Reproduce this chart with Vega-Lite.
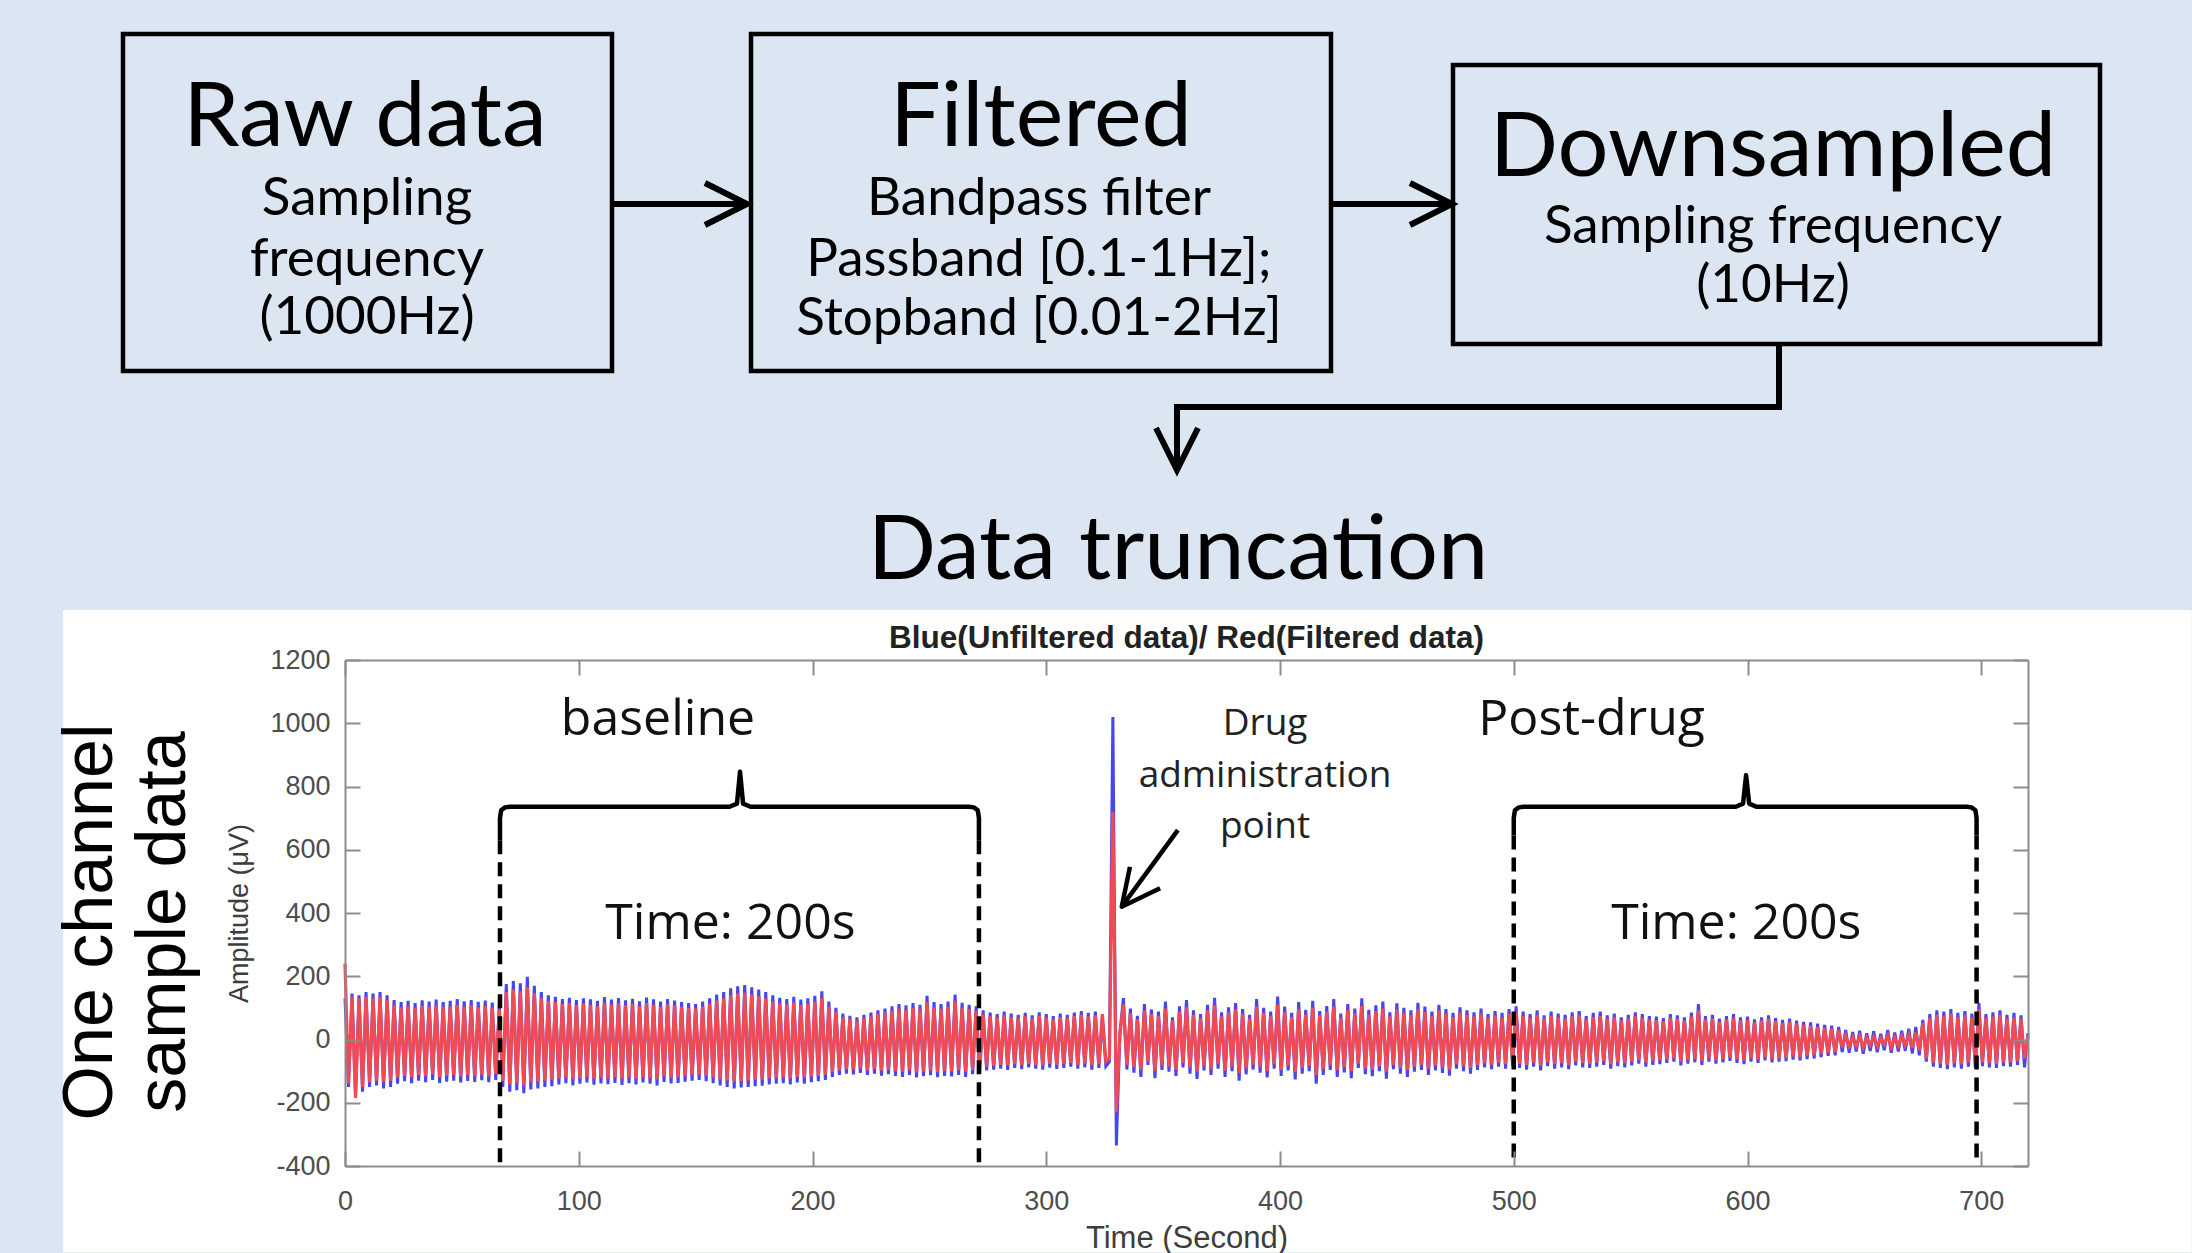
{
  "$schema": "https://vega.github.io/schema/vega-lite/v6.json",
  "background": "#dce6f2",
  "padding": 0,
  "bounds": "flush",
  "spacing": 50,
  "config": {"view": {"stroke": null}},
  "vconcat": [
    {
      "width": 1683,
      "height": 610,
      "encoding": {
        "x": {"field": "x", "type": "quantitative", "scale": {"domain": [345, 2028], "nice": false, "zero": false}, "axis": null},
        "y": {"field": "y", "type": "quantitative", "scale": {"domain": [0, 610], "reverse": true, "nice": false, "zero": false}, "axis": null}
      },
      "layer": [
        {
          "data": {"values": [{"x": 0, "x2": 2192, "y": 0, "y2": 610}]},
          "mark": {"type": "rect", "fill": "#dce6f2", "stroke": null},
          "encoding": {"x2": {"field": "x2"}, "y2": {"field": "y2"}}
        },
        {
          "data": {"values": [
            {"box": "Raw data", "x": 123, "x2": 612, "y": 34, "y2": 371},
            {"box": "Filtered", "x": 751, "x2": 1331, "y": 34, "y2": 371},
            {"box": "Downsampled", "x": 1453, "x2": 2100, "y": 65, "y2": 344}
          ]},
          "mark": {"type": "rect", "fill": "transparent", "stroke": "#000000", "strokeWidth": 4.5},
          "encoding": {"x2": {"field": "x2"}, "y2": {"field": "y2"}}
        },
        {
          "data": {"values": [
            {"g": "a1", "o": 1, "x": 612, "y": 204}, {"g": "a1", "o": 2, "x": 744, "y": 204},
            {"g": "h1", "o": 1, "x": 705, "y": 183}, {"g": "h1", "o": 2, "x": 747, "y": 204}, {"g": "h1", "o": 3, "x": 705, "y": 225},
            {"g": "a2", "o": 1, "x": 1331, "y": 204}, {"g": "a2", "o": 2, "x": 1448, "y": 204},
            {"g": "h2", "o": 1, "x": 1410, "y": 183}, {"g": "h2", "o": 2, "x": 1452, "y": 204}, {"g": "h2", "o": 3, "x": 1410, "y": 225},
            {"g": "a3", "o": 1, "x": 1779, "y": 344}, {"g": "a3", "o": 2, "x": 1779, "y": 407}, {"g": "a3", "o": 3, "x": 1177, "y": 407}, {"g": "a3", "o": 4, "x": 1177, "y": 466},
            {"g": "h3", "o": 1, "x": 1156, "y": 428}, {"g": "h3", "o": 2, "x": 1177, "y": 470}, {"g": "h3", "o": 3, "x": 1198, "y": 428}
          ]},
          "mark": {"type": "line", "stroke": "#000000", "strokeWidth": 6, "strokeJoin": "miter"},
          "encoding": {"detail": {"field": "g", "type": "nominal"}, "order": {"field": "o", "type": "quantitative"}}
        },
        {
          "data": {"values": [
            {"x": 365, "y": 146, "label": "Raw data", "k": "h"},
            {"x": 1041, "y": 146, "label": "Filtered", "k": "h"},
            {"x": 1773, "y": 176, "label": "Downsampled", "k": "h"},
            {"x": 1178, "y": 579, "label": "Data truncation", "k": "h"},
            {"x": 367, "y": 215, "label": "Sampling", "k": "s"},
            {"x": 367, "y": 276, "label": "frequency", "k": "s"},
            {"x": 367, "y": 334, "label": "(1000Hz)", "k": "s"},
            {"x": 1039, "y": 215, "label": "Bandpass filter", "k": "s"},
            {"x": 1039, "y": 276, "label": "Passband [0.1-1Hz];", "k": "s"},
            {"x": 1039, "y": 335, "label": "Stopband [0.01-2Hz]", "k": "s"},
            {"x": 1773, "y": 243, "label": "Sampling frequency", "k": "s"},
            {"x": 1773, "y": 302, "label": "(10Hz)", "k": "s"}
          ]},
          "layer": [
            {
              "transform": [{"filter": "datum.k === 'h'"}],
              "mark": {"type": "text", "font": "Lato", "fontSize": 90, "align": "center", "baseline": "alphabetic", "color": "#000000"},
              "encoding": {"text": {"field": "label"}}
            },
            {
              "transform": [{"filter": "datum.k === 's'"}],
              "mark": {"type": "text", "font": "Lato", "fontSize": 53, "align": "center", "baseline": "alphabetic", "color": "#000000"},
              "encoding": {"text": {"field": "label"}}
            }
          ]
        }
      ]
    },
    {
      "width": 1683,
      "height": 506,
      "data": {
        "values": "t,b,r\n0,130,240\n1.5,-150,-140\n3,145,135\n4.5,-175,-185\n6,140,130\n7.5,-165,-150\n9,150,135\n10.5,-150,-135\n12,145,130\n13.5,-145,-130\n15,150,135\n16.5,-155,-135\n18,140,125\n19.5,-150,-130\n21,125,108\n22.5,-140,-120\n24,118,102\n25.5,-132,-115\n27,122,106\n28.5,-138,-118\n30,115,100\n31.5,-130,-112\n33,124,107\n34.5,-135,-116\n36,120,104\n37.5,-128,-110\n39,126,108\n40.5,-137,-119\n42,118,103\n43.5,-133,-114\n45,122,105\n46.5,-130,-112\n48,128,110\n49.5,-136,-117\n51,121,104\n52.5,-131,-113\n54,125,108\n55.5,-134,-116\n57,119,102\n58.5,-129,-111\n60,123,106\n61.5,-135,-117\n63,117,101\n64.5,-128,-110\n66,110,95\n67.5,-150,-130\n69,175,150\n70.5,-165,-142\n72,185,158\n73.5,-160,-138\n75,178,152\n76.5,-170,-146\n78,198,165\n79.5,-158,-136\n81,170,146\n82.5,-155,-133\n84,150,130\n85.5,-150,-130\n87,140,122\n88.5,-148,-128\n90,135,118\n91.5,-142,-124\n93,128,112\n94.5,-138,-120\n96,132,114\n97.5,-145,-126\n99,125,109\n100.5,-140,-122\n102,130,113\n103.5,-136,-118\n105,127,110\n106.5,-143,-124\n108,122,106\n109.5,-139,-121\n111,134,116\n112.5,-141,-123\n114,126,110\n115.5,-137,-119\n117,131,114\n118.5,-144,-125\n120,124,108\n121.5,-138,-120\n123,129,112\n124.5,-142,-123\n126,121,105\n127.5,-136,-118\n129,133,115\n130.5,-140,-122\n132,127,110\n133.5,-145,-126\n135,120,104\n136.5,-134,-117\n138,128,111\n139.5,-139,-121\n141,123,107\n142.5,-137,-119\n144,118,103\n145.5,-133,-116\n147,115,100\n148.5,-130,-113\n150,112,98\n151.5,-128,-111\n153,120,104\n154.5,-132,-115\n156,130,113\n157.5,-138,-120\n159,142,123\n160.5,-145,-126\n162,150,130\n163.5,-150,-130\n165,162,140\n166.5,-155,-134\n168,168,145\n169.5,-152,-132\n171,172,148\n172.5,-150,-130\n174,165,143\n175.5,-148,-128\n177,158,137\n178.5,-146,-127\n180,150,130\n181.5,-142,-123\n183,140,121\n184.5,-140,-122\n186,132,114\n187.5,-138,-120\n189,128,111\n190.5,-142,-123\n192,135,117\n193.5,-136,-118\n195,126,109\n196.5,-140,-121\n198,130,113\n199.5,-135,-117\n201,138,120\n202.5,-132,-115\n204,152,131\n205.5,-128,-111\n207,120,104\n208.5,-118,-103\n210,100,88\n211.5,-112,-97\n213,82,70\n214.5,-108,-94\n216,75,65\n217.5,-110,-95\n219,70,60\n220.5,-106,-92\n222,78,67\n223.5,-112,-97\n225,85,73\n226.5,-108,-93\n228,92,80\n229.5,-114,-98\n231,98,85\n232.5,-110,-96\n234,105,91\n235.5,-115,-100\n237,112,97\n238.5,-118,-102\n240,108,94\n241.5,-112,-97\n243,115,100\n244.5,-120,-104\n246,110,95\n247.5,-116,-101\n249,138,118\n250.5,-113,-98\n252,118,102\n253.5,-119,-103\n255,112,97\n256.5,-115,-100\n258,120,104\n259.5,-117,-101\n261,142,122\n262.5,-112,-97\n264,116,100\n265.5,-118,-102\n267,110,95\n268.5,-110,-96\n270,105,91\n271.5,-108,-94\n273,92,80\n274.5,-98,-85\n276,85,74\n277.5,-95,-83\n279,80,70\n280.5,-92,-80\n282,88,76\n283.5,-96,-83\n285,82,71\n286.5,-90,-78\n288,78,68\n289.5,-94,-82\n291,84,73\n292.5,-88,-77\n294,76,66\n295.5,-92,-80\n297,86,75\n298.5,-95,-82\n300,80,69\n301.5,-89,-77\n303,74,64\n304.5,-93,-81\n306,82,71\n307.5,-90,-78\n309,78,68\n310.5,-86,-75\n312,85,74\n313.5,-92,-80\n315,90,78\n316.5,-88,-76\n318,84,73\n319.5,-95,-82\n321,88,76\n322.5,-90,-78\n324,70,80\n325.5,-85,-70\n327,-70,-60\n328.5,1020,720\n330,-335,-230\n331.5,20,15\n333,131,110\n334.5,-95,-80\n336,98,82\n337.5,-105,-88\n339,75,64\n340.5,-118,-96\n342,112,92\n343.5,-80,-70\n345,95,80\n346.5,-122,-100\n348,88,74\n349.5,-96,-82\n351,120,98\n352.5,-102,-86\n354,70,60\n355.5,-115,-95\n357,105,88\n358.5,-88,-75\n360,125,102\n361.5,-108,-90\n363,92,78\n364.5,-125,-102\n366,80,68\n367.5,-98,-84\n369,110,92\n370.5,-112,-94\n372,132,108\n373.5,-92,-78\n375,86,73\n376.5,-118,-98\n378,102,86\n379.5,-100,-85\n381,115,96\n382.5,-130,-106\n384,96,81\n385.5,-110,-92\n387,78,66\n388.5,-95,-80\n390,128,105\n391.5,-105,-88\n393,100,84\n394.5,-120,-99\n396,88,75\n397.5,-92,-78\n399,136,110\n400.5,-115,-96\n402,104,87\n403.5,-98,-83\n405,84,71\n406.5,-126,-103\n408,118,97\n409.5,-108,-90\n411,94,79\n412.5,-100,-84\n414,122,100\n415.5,-140,-112\n417,90,76\n418.5,-112,-93\n420,106,88\n421.5,-96,-81\n423,128,104\n424.5,-118,-97\n426,82,70\n427.5,-104,-87\n429,112,93\n430.5,-122,-100\n432,98,82\n433.5,-90,-76\n435,130,106\n436.5,-110,-92\n438,94,79\n439.5,-116,-96\n441,108,90\n442.5,-100,-84\n444,120,98\n445.5,-124,-102\n447,86,73\n448.5,-94,-80\n450,114,95\n451.5,-108,-90\n453,100,84\n454.5,-118,-97\n456,92,78\n457.5,-102,-86\n459,116,96\n460.5,-96,-81\n462,104,87\n463.5,-112,-93\n465,88,74\n466.5,-98,-83\n468,110,92\n469.5,-106,-89\n471,96,81\n472.5,-114,-95\n474,84,71\n475.5,-92,-78\n477,102,85\n478.5,-100,-84\n480,92,78\n481.5,-108,-90\n483,86,73\n484.5,-96,-81\n486,98,82\n487.5,-88,-75\n489,80,68\n490.5,-94,-80\n492,90,76\n493.5,-86,-73\n495,84,71\n496.5,-92,-78\n498,96,81\n499.5,-84,-72\n501,105,88\n502.5,-90,-77\n504,88,75\n505.5,-95,-80\n507,80,68\n508.5,-86,-73\n510,92,78\n511.5,-98,-83\n513,76,65\n514.5,-84,-72\n516,88,75\n517.5,-92,-78\n519,82,70\n520.5,-88,-75\n522,78,66\n523.5,-94,-80\n525,86,73\n526.5,-82,-70\n528,90,76\n529.5,-88,-75\n531,74,63\n532.5,-90,-77\n534,84,71\n535.5,-86,-73\n537,88,75\n538.5,-80,-68\n540,76,65\n541.5,-92,-78\n543,82,70\n544.5,-84,-72\n546,70,60\n547.5,-88,-75\n549,78,66\n550.5,-82,-70\n552,86,73\n553.5,-76,-65\n555,80,68\n556.5,-86,-73\n558,74,63\n559.5,-80,-68\n561,72,61\n562.5,-78,-66\n564,68,58\n565.5,-74,-63\n567,80,68\n568.5,-70,-60\n570,76,65\n571.5,-82,-70\n573,70,60\n574.5,-76,-65\n576,85,72\n577.5,-72,-61\n579,112,92\n580.5,-80,-68\n582,74,63\n583.5,-70,-60\n585,78,66\n586.5,-76,-65\n588,66,56\n589.5,-72,-61\n591,74,63\n592.5,-68,-58\n594,80,68\n595.5,-74,-63\n597,70,60\n598.5,-78,-66\n600,72,61\n601.5,-70,-60\n603,64,54\n604.5,-74,-63\n606,70,60\n607.5,-66,-56\n609,76,65\n610.5,-72,-61\n612,68,58\n613.5,-70,-60\n615,62,52\n616.5,-68,-58\n618,66,56\n619.5,-64,-54\n621,60,50\n622.5,-66,-56\n624,56,46\n625.5,-62,-52\n627,54,44\n628.5,-60,-50\n630,50,40\n631.5,-56,-45\n633,46,36\n634.5,-52,-42\n636,44,34\n637.5,-50,-40\n639,40,30\n640.5,-40,-25\n642,30,12\n643.5,-42,-22\n645,24,8\n646.5,-38,-20\n648,28,10\n649.5,-45,-24\n651,20,6\n652.5,-36,-18\n654,26,8\n655.5,-40,-22\n657,18,4\n658.5,-34,-16\n660,30,12\n661.5,-42,-24\n663,22,6\n664.5,-38,-20\n666,28,10\n667.5,-36,-18\n669,34,14\n670.5,-44,-26\n672,40,22\n673.5,-50,-34\n675,62,52\n676.5,-70,-60\n678,80,68\n679.5,-86,-73\n681,92,78\n682.5,-90,-77\n684,88,75\n685.5,-94,-80\n687,96,82\n688.5,-88,-75\n690,84,71\n691.5,-92,-78\n693,90,76\n694.5,-86,-73\n696,82,70\n697.5,-90,-77\n699,115,96\n700.5,-84,-72\n702,80,68\n703.5,-88,-75\n705,86,73\n706.5,-90,-77\n708,92,78\n709.5,-84,-72\n711,78,66\n712.5,-86,-73\n714,84,71\n715.5,-80,-68\n717,76,65\n718.5,-88,-60\n720,20,10",
        "format": {"type": "csv", "parse": {"t": "number", "b": "number", "r": "number"}}
      },
      "resolve": {"axis": {"x": "independent", "y": "independent"}},
      "layer": [
        {
          "data": {"values": [{}]},
          "mark": {"type": "rect", "fill": "#ffffff", "stroke": null},
          "encoding": {
            "x": {"datum": -120.6, "type": "quantitative", "scale": {"domain": [0, 720], "nice": false, "zero": false}, "axis": null},
            "x2": {"datum": 790},
            "y": {"datum": 1358, "type": "quantitative", "scale": {"domain": [-400, 1200], "nice": false, "zero": false}, "axis": null},
            "y2": {"datum": -673}
          }
        },
        {
          "mark": {"type": "line", "stroke": "#4646ee", "strokeWidth": 3},
          "encoding": {
            "x": {"field": "t", "type": "quantitative", "scale": {"domain": [0, 720], "nice": false, "zero": false},
                  "axis": {"orient": "top", "values": [0, 100, 200, 300, 400, 500, 600, 700], "labels": false, "title": null, "tickSize": -15, "tickWidth": 2, "tickColor": "#8c8c8c", "domain": true, "domainColor": "#8c8c8c", "domainWidth": 2, "grid": false, "zindex": 1}},
            "y": {"field": "b", "type": "quantitative", "scale": {"domain": [-400, 1200], "nice": false, "zero": false},
                  "axis": {"orient": "right", "values": [-400, -200, 0, 200, 400, 600, 800, 1000, 1200], "labels": false, "title": null, "tickSize": -15, "tickWidth": 2, "tickColor": "#8c8c8c", "domain": true, "domainColor": "#8c8c8c", "domainWidth": 2, "grid": false, "zindex": 1}}
          }
        },
        {
          "mark": {"type": "line", "stroke": "#f04a55", "strokeWidth": 3.2},
          "encoding": {
            "x": {"field": "t", "type": "quantitative", "scale": {"domain": [0, 720], "nice": false, "zero": false},
                  "axis": {"orient": "bottom", "values": [0, 100, 200, 300, 400, 500, 600, 700], "labelExpr": "'' + datum.value", "title": "Time (Second)", "tickSize": -15, "tickWidth": 2, "tickColor": "#8c8c8c", "domain": true, "domainColor": "#8c8c8c", "domainWidth": 2, "labelPadding": 37, "labelFont": "Liberation Sans", "labelFontSize": 27, "labelColor": "#4d4d4d", "labelFlush": false, "labelOverlap": false, "titleFont": "Liberation Sans", "titleFontSize": 31, "titleFontWeight": "normal", "titleColor": "#3d3d3d", "titlePadding": 9, "grid": false, "zindex": 1}},
            "y": {"field": "r", "type": "quantitative", "scale": {"domain": [-400, 1200], "nice": false, "zero": false},
                  "axis": {"orient": "left", "values": [-400, -200, 0, 200, 400, 600, 800, 1000, 1200], "labelExpr": "'' + datum.value", "title": "Amplitude (μV)", "tickSize": -15, "tickWidth": 2, "tickColor": "#8c8c8c", "domain": true, "domainColor": "#8c8c8c", "domainWidth": 2, "labelPadding": 30, "labelFont": "Liberation Sans", "labelFontSize": 27, "labelColor": "#4d4d4d", "labelFlush": false, "labelOverlap": false, "titleFont": "Liberation Sans", "titleFontSize": 27, "titleFontWeight": "normal", "titleColor": "#3d3d3d", "titlePadding": 16, "grid": false, "zindex": 1}}
          }
        },
        {
          "data": {"values": [
            {"t": 66.3, "a": 630, "a2": -390},
            {"t": 271.2, "a": 630, "a2": -390},
            {"t": 500, "a": 645, "a2": -390},
            {"t": 698, "a": 645, "a2": -390}
          ]},
          "mark": {"type": "rule", "stroke": "#000000", "strokeWidth": 4.5, "strokeDash": [14, 8]},
          "encoding": {
            "x": {"field": "t", "type": "quantitative", "scale": {"domain": [0, 720], "nice": false, "zero": false}, "axis": null},
            "y": {"field": "a", "type": "quantitative", "scale": {"domain": [-400, 1200], "nice": false, "zero": false}, "axis": null},
            "y2": {"field": "a2"}
          }
        },
        {
          "data": {"values": [
            {"g": "brace1", "o": 1, "t": 66.3, "a": 630}, {"g": "brace1", "o": 2, "t": 66.3, "a": 700}, {"g": "brace1", "o": 3, "t": 66.8, "a": 725}, {"g": "brace1", "o": 4, "t": 68.5, "a": 734}, {"g": "brace1", "o": 5, "t": 70.5, "a": 736},
            {"g": "brace1", "o": 6, "t": 164.5, "a": 736}, {"g": "brace1", "o": 7, "t": 167.7, "a": 746}, {"g": "brace1", "o": 8, "t": 169, "a": 847}, {"g": "brace1", "o": 9, "t": 170.3, "a": 746}, {"g": "brace1", "o": 10, "t": 173.5, "a": 736},
            {"g": "brace1", "o": 11, "t": 267, "a": 736}, {"g": "brace1", "o": 12, "t": 269, "a": 734}, {"g": "brace1", "o": 13, "t": 270.7, "a": 725}, {"g": "brace1", "o": 14, "t": 271.2, "a": 700}, {"g": "brace1", "o": 15, "t": 271.2, "a": 630},
            {"g": "brace2", "o": 1, "t": 500, "a": 645}, {"g": "brace2", "o": 2, "t": 500, "a": 700}, {"g": "brace2", "o": 3, "t": 500.5, "a": 725}, {"g": "brace2", "o": 4, "t": 502.2, "a": 734}, {"g": "brace2", "o": 5, "t": 504.2, "a": 736},
            {"g": "brace2", "o": 6, "t": 595, "a": 736}, {"g": "brace2", "o": 7, "t": 598.1, "a": 746}, {"g": "brace2", "o": 8, "t": 599.4, "a": 836}, {"g": "brace2", "o": 9, "t": 600.7, "a": 746}, {"g": "brace2", "o": 10, "t": 603.8, "a": 736},
            {"g": "brace2", "o": 11, "t": 693.8, "a": 736}, {"g": "brace2", "o": 12, "t": 695.8, "a": 734}, {"g": "brace2", "o": 13, "t": 697.5, "a": 725}, {"g": "brace2", "o": 14, "t": 698, "a": 700}, {"g": "brace2", "o": 15, "t": 698, "a": 645},
            {"g": "shaft", "o": 1, "t": 356.3, "a": 662}, {"g": "shaft", "o": 2, "t": 332.3, "a": 420},
            {"g": "head", "o": 1, "t": 335.8, "a": 546}, {"g": "head", "o": 2, "t": 332.3, "a": 420}, {"g": "head", "o": 3, "t": 348.7, "a": 478}
          ]},
          "mark": {"type": "line", "stroke": "#000000", "strokeWidth": 4.5, "strokeJoin": "round"},
          "encoding": {
            "x": {"field": "t", "type": "quantitative", "scale": {"domain": [0, 720], "nice": false, "zero": false}, "axis": null},
            "y": {"field": "a", "type": "quantitative", "scale": {"domain": [-400, 1200], "nice": false, "zero": false}, "axis": null},
            "detail": {"field": "g", "type": "nominal"},
            "order": {"field": "o", "type": "quantitative"}
          }
        },
        {
          "data": {"values": [
            {"t": 133.9, "a": 962, "label": "baseline", "k": "big"},
            {"t": 164.9, "a": 318, "label": "Time: 200s", "k": "big"},
            {"t": 533.3, "a": 962, "label": "Post-drug", "k": "big"},
            {"t": 595.2, "a": 318, "label": "Time: 200s", "k": "big"},
            {"t": 393.6, "a": 963, "label": "Drug", "k": "small"},
            {"t": 393.6, "a": 797, "label": "administration", "k": "small"},
            {"t": 393.6, "a": 636, "label": "point", "k": "small"}
          ]},
          "encoding": {
            "x": {"field": "t", "type": "quantitative", "scale": {"domain": [0, 720], "nice": false, "zero": false}, "axis": null},
            "y": {"field": "a", "type": "quantitative", "scale": {"domain": [-400, 1200], "nice": false, "zero": false}, "axis": null},
            "text": {"field": "label"}
          },
          "layer": [
            {
              "transform": [{"filter": "datum.k === 'big'"}],
              "mark": {"type": "text", "font": "Open Sans", "fontSize": 50, "align": "center", "baseline": "alphabetic", "color": "#111111"}
            },
            {
              "transform": [{"filter": "datum.k === 'small'"}],
              "mark": {"type": "text", "font": "Open Sans", "fontSize": 37, "align": "center", "baseline": "alphabetic", "color": "#222222"}
            }
          ]
        },
        {
          "data": {"values": [{}]},
          "mark": {"type": "text", "text": ["One channel", "sample data"], "font": "Liberation Sans", "fontSize": 70, "lineHeight": 73, "angle": 270, "align": "center", "baseline": "alphabetic", "color": "#000000"},
          "encoding": {
            "x": {"datum": -99.7, "type": "quantitative", "scale": {"domain": [0, 720], "nice": false, "zero": false}, "axis": null},
            "y": {"datum": 371.5, "type": "quantitative", "scale": {"domain": [-400, 1200], "nice": false, "zero": false}, "axis": null}
          }
        },
        {
          "data": {"values": [{}]},
          "mark": {"type": "text", "text": "Blue(Unfiltered data)/ Red(Filtered data)", "font": "Liberation Sans", "fontWeight": "bold", "fontSize": 31.5, "align": "center", "baseline": "alphabetic", "color": "#222222"},
          "encoding": {
            "x": {"datum": 360, "type": "quantitative", "scale": {"domain": [0, 720], "nice": false, "zero": false}, "axis": null},
            "y": {"datum": 1238, "type": "quantitative", "scale": {"domain": [-400, 1200], "nice": false, "zero": false}, "axis": null}
          }
        }
      ]
    }
  ]
}
